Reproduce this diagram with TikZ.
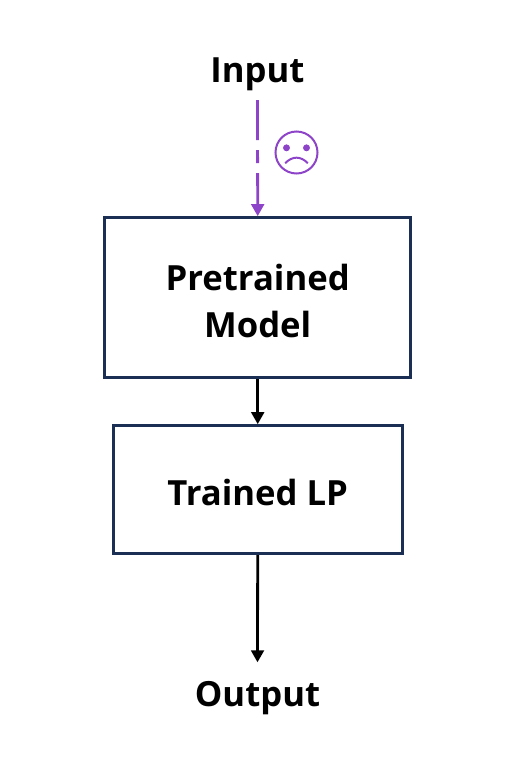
\documentclass[tikz,border=0pt]{standalone}
\usepackage{fontspec}
\setmainfont{Open Sans}
\usepackage{tikz}
\usetikzlibrary{positioning, arrows.meta, calc}
\definecolor{boxnavy}{HTML}{1B2F55}
\definecolor{sadpurple}{HTML}{8D44C8}

\begin{document}
\begin{tikzpicture}[
                x=0.75pt, y=-0.75pt,
                modelbox/.style={draw=boxnavy, line width=2.25pt, rectangle, align=center, inner sep=0pt, font=\fontsize{26}{35.25}\selectfont\bfseries},
                caption/.style={inner sep=0pt, font=\fontsize{26}{32}\selectfont\bfseries},
                edge/.style={line width=2.1pt, -{Triangle[length=9pt, width=9.5pt]}},
                sadedge/.style={edge, draw=sadpurple, -{Triangle[length=9pt, width=9.5pt, sadpurple]}, dash pattern=on 30pt off 7.5pt on 9.75pt off 7.5pt on 60pt},
                sadface/.style={draw=sadpurple, line width=1.5pt, circle, minimum size=31.5pt, inner sep=0pt}
            ]
            \useasboundingbox (0,0) rectangle (515,761);

            % Knoten
            \node[modelbox, minimum width=229.5pt, minimum height=120pt] (Model) at (257.7,297.7) {\rule{0pt}{24.3pt}Pretrained\\Model};
            \node[modelbox, minimum width=216.75pt, minimum height=96pt, below=33.75pt of Model] (LP) {\rule{0pt}{24.3pt}Trained LP};
            \node[caption] (Input) at (257.5,74) {Input};
            \node[caption] (Output) at (257.5,698) {Output};
            \node[sadface] (Face) at (296.5,152.5) {};

            % Gesicht
            \fill[sadpurple] ([xshift=-7.5pt,yshift=3.5pt]Face.center) circle (2.6pt);
            \fill[sadpurple] ([xshift=7.5pt,yshift=3.5pt]Face.center) circle (2.6pt);
            \draw[sadpurple, line width=1.5pt] ([xshift=-8.5pt,yshift=-8pt]Face.center) .. controls ([xshift=-3pt,yshift=-2.5pt]Face.center) and ([xshift=3pt,yshift=-2.5pt]Face.center) .. ([xshift=8.5pt,yshift=-8pt]Face.center);

            % Kanten zwischen Knoten
            \draw[sadedge] ([yshift=-7pt]Input.south) -- (Model.north);
            \draw[edge] (Model.south) -- (LP.north);
            \draw[edge] (LP.south) -- ([yshift=14pt]Output.north);

        \end{tikzpicture}
\end{document}
